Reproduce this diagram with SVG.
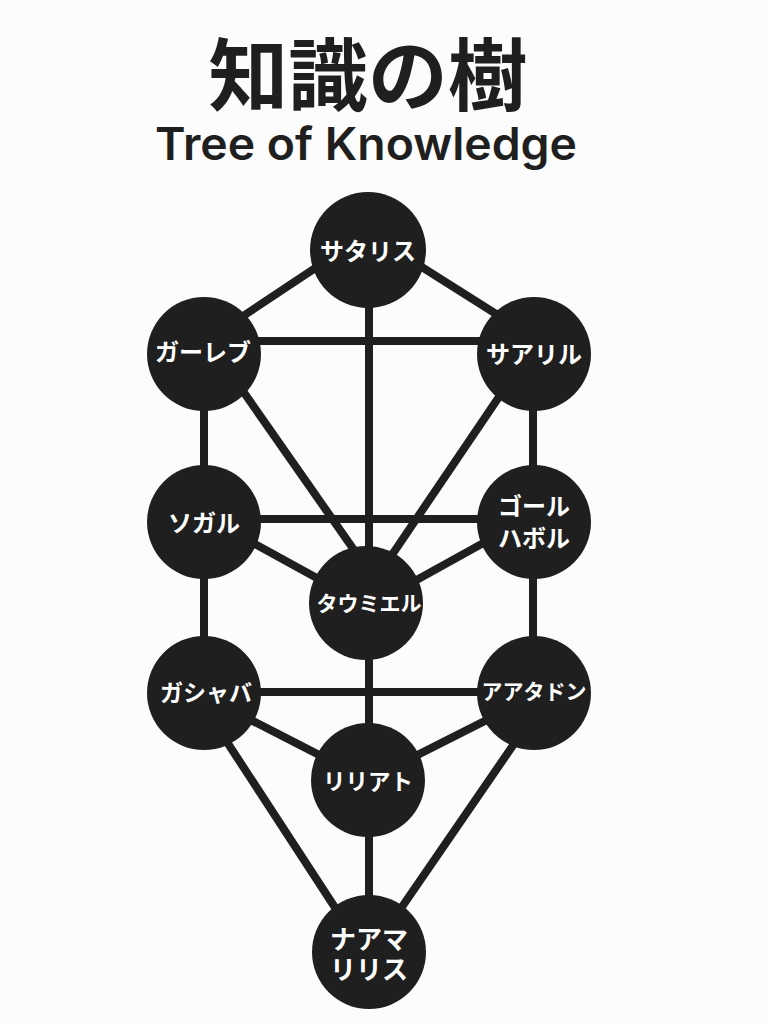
<svg xmlns="http://www.w3.org/2000/svg" width="768" height="1024" viewBox="0 0 768 1024">
<style>
.bg{fill:#fcfcfc}
.edge{stroke:#1f1f1f;stroke-width:8;stroke-linecap:butt;fill:none}
.node circle{fill:#1f1f1f}
.lbl{fill:#ffffff;font-family:"Noto Sans CJK JP","Noto Sans",sans-serif;font-weight:700;text-anchor:middle;dominant-baseline:central}
.title{fill:#1f1f1f;font-family:"Noto Sans CJK JP",sans-serif;font-weight:700;text-anchor:middle;dominant-baseline:central}
.sub{fill:#1f1f1f;font-family:Inter,"Liberation Sans",sans-serif;font-weight:600;text-anchor:middle}
</style>
<rect class="bg" width="768" height="1024"/>
<text class="title" x="368" y="70" font-size="79" textLength="319" lengthAdjust="spacingAndGlyphs">知識の樹</text>
<text class="sub" x="366" y="160" font-size="45" textLength="422" lengthAdjust="spacingAndGlyphs">Tree of Knowledge</text>
<g id="connectors">
<line class="edge" x1="368" y1="233" x2="204" y2="342"/>
<line class="edge" x1="368" y1="233" x2="534" y2="338"/>
<line class="edge" x1="369" y1="250" x2="369" y2="603"/>
<line class="edge" x1="204" y1="341" x2="534" y2="341"/>
<line class="edge" x1="204" y1="354" x2="204" y2="693"/>
<line class="edge" x1="533" y1="354" x2="533" y2="693"/>
<line class="edge" x1="217" y1="354" x2="375" y2="580"/>
<line class="edge" x1="528" y1="354" x2="375" y2="580"/>
<line class="edge" x1="204" y1="519" x2="534" y2="519"/>
<line class="edge" x1="204" y1="516" x2="366" y2="605"/>
<line class="edge" x1="534" y1="515" x2="366" y2="608"/>
<line class="edge" x1="369" y1="603" x2="369" y2="780"/>
<line class="edge" x1="204" y1="692" x2="534" y2="692"/>
<line class="edge" x1="204" y1="696" x2="368" y2="780"/>
<line class="edge" x1="534" y1="696" x2="368" y2="780"/>
<line class="edge" x1="195" y1="693" x2="364" y2="952"/>
<line class="edge" x1="549" y1="693" x2="371" y2="952"/>
<line class="edge" x1="369" y1="780" x2="369" y2="952"/>
</g>
<g id="n-satarisu" class="node"><circle cx="368" cy="250" r="58"/><text class="lbl" x="368" y="249" font-size="24">サタリス</text></g>
<g id="n-gareb" class="node"><circle cx="204" cy="354" r="57"/><text class="lbl" x="203" y="350" font-size="24">ガーレブ</text></g>
<g id="n-saariru" class="node"><circle cx="534" cy="354" r="57"/><text class="lbl" x="534" y="352" font-size="24">サアリル</text></g>
<g id="n-sogaru" class="node"><circle cx="204" cy="522" r="57"/><text class="lbl" x="204" y="521" font-size="24">ソガル</text></g>
<g id="n-gorhabor" class="node"><circle cx="534" cy="522" r="57"/><text class="lbl" x="534" y="504" font-size="24">ゴール</text><text class="lbl" x="534" y="536" font-size="24">ハボル</text></g>
<g id="n-taumiel" class="node"><circle cx="366" cy="603" r="57"/><text class="lbl" x="369" y="602" font-size="21">タウミエル</text></g>
<g id="n-gashaba" class="node"><circle cx="204" cy="693" r="57"/><text class="lbl" x="206" y="691" font-size="23">ガシャバ</text></g>
<g id="n-aatadon" class="node"><circle cx="534" cy="693" r="57"/><text class="lbl" x="534" y="690" font-size="21">アアタドン</text></g>
<g id="n-ririato" class="node"><circle cx="368" cy="780" r="57"/><text class="lbl" x="368" y="780" font-size="22.5">リリアト</text></g>
<g id="n-naamaririsu" class="node"><circle cx="369" cy="952" r="57"/><text class="lbl" x="369" y="937" font-size="26">ナアマ</text><text class="lbl" x="369" y="967" font-size="26">リリス</text></g>
</svg>
